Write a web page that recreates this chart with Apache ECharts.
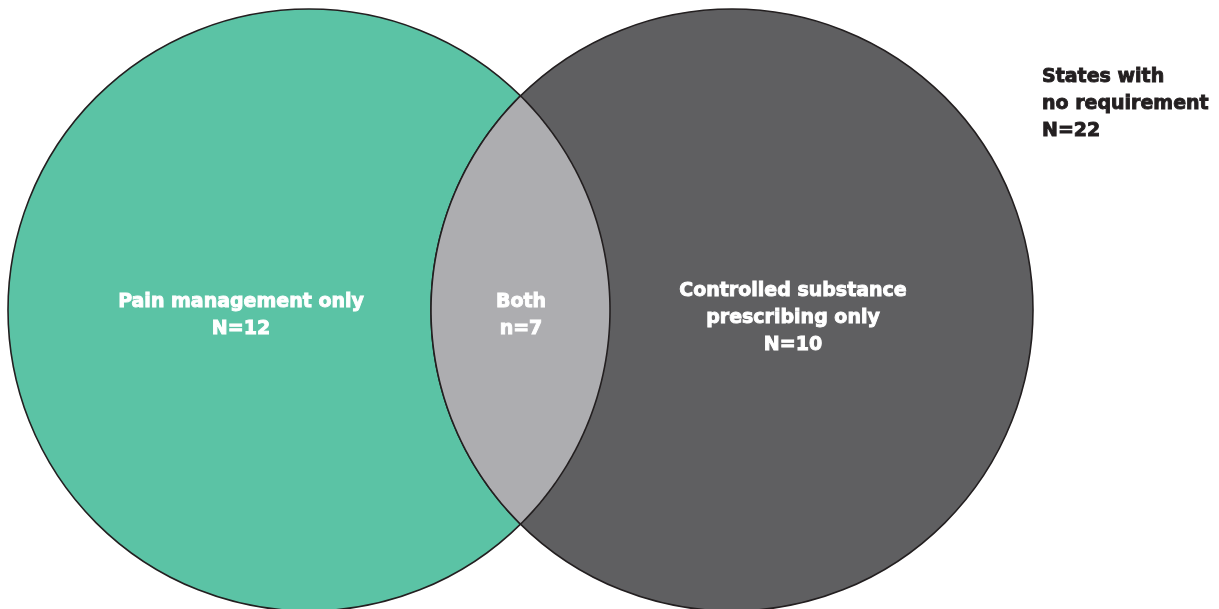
<!DOCTYPE html>
<html>
<head>
<meta charset="utf-8">
<script src="https://cdn.jsdelivr.net/npm/echarts@6/dist/echarts.min.js"></script>
<style>html,body{margin:0;padding:0;background:#fff}#c{width:1219px;height:609px}</style>
</head>
<body>
<div id="c"></div>
<script>
// ---- data ----
const categories = ['Pain management only', 'Both', 'Controlled substance\nprescribing only', 'States with\nno requirement'];
const countPrefixes = ['N', 'n', 'N', 'N'];
const counts = [12, 7, 10, 22];

// ---- layout (axis units = pixels of a full-canvas grid) ----
const circles = [
  { cx: 309, cy: 310, r: 301, color: '#5BC3A5' },
  { cx: 732, cy: 310, r: 301, color: '#5F5F61' }
];
const lensColor = '#ADADB0';
const strokeColor = '#231F20';
const labelPos = [
  { x: 241, y: 316, align: 'center', color: '#ffffff' },
  { x: 521, y: 316, align: 'center', color: '#ffffff' },
  { x: 793, y: 318, align: 'center', color: '#ffffff' },
  { x: 1042, y: 104, align: 'left', color: '#231F20' }
];

const chart = echarts.init(document.getElementById('c'));

function lensPoints(api) {
  const a = circles[0], b = circles[1];
  const d = b.cx - a.cx;
  const xi = (d * d - b.r * b.r + a.r * a.r) / (2 * d);
  const h = Math.sqrt(a.r * a.r - xi * xi);
  const pts = [];
  const angA = Math.atan2(h, xi);
  const N = 200;
  for (let i = 0; i <= N; i++) {
    const t = -angA + (2 * angA) * i / N;
    pts.push(api.coord([a.cx + a.r * Math.cos(t), a.cy + a.r * Math.sin(t)]));
  }
  const angB = Math.atan2(h, d - xi);
  for (let i = 0; i <= N; i++) {
    const t = Math.PI - angB + (2 * angB) * i / N;
    pts.push(api.coord([b.cx + b.r * Math.cos(t), b.cy + b.r * Math.sin(t)]));
  }
  return pts;
}

const shapeData = [0, 1, 2].map(i => ({ value: [i] }));
const labelData = categories.map((c, i) => ({
  value: [labelPos[i].x, labelPos[i].y],
  name: c,
  text: c + '\n' + countPrefixes[i] + '=' + counts[i]
}));

chart.setOption({
  animation: false,
  grid: { left: 0, right: 0, top: 0, bottom: 0 },
  xAxis: { type: 'value', min: 0, max: 1219, show: false },
  yAxis: { type: 'value', min: 0, max: 609, inverse: true, show: false },
  series: [
    {
      type: 'custom',
      coordinateSystem: 'cartesian2d',
      clip: false,
      data: shapeData,
      renderItem: function (params, api) {
        const idx = params.dataIndex;
        if (idx < 2) {
          const c = circles[idx];
          const p = api.coord([c.cx, c.cy]);
          const r = api.size([c.r, 0])[0];
          return {
            type: 'circle',
            shape: { cx: p[0], cy: p[1], r: r },
            style: { fill: c.color, stroke: strokeColor, lineWidth: 1.6 }
          };
        }
        return {
          type: 'polygon',
          shape: { points: lensPoints(api) },
          style: { fill: lensColor, stroke: strokeColor, lineWidth: 1.6, lineJoin: 'round' }
        };
      }
    },
    {
      type: 'custom',
      coordinateSystem: 'cartesian2d',
      clip: false,
      data: labelData,
      renderItem: function (params, api) {
        const idx = params.dataIndex;
        const lp = labelPos[idx];
        const p = api.coord([api.value(0), api.value(1)]);
        return {
          type: 'text',
          x: p[0],
          y: p[1],
          style: {
            text: labelData[idx].text,
            fill: lp.color,
            stroke: lp.color,
            lineWidth: 0.9,
            font: 'bold 19px "DejaVu Sans", sans-serif',
            align: lp.align,
            verticalAlign: 'middle',
            lineHeight: 27
          }
        };
      }
    }
  ]
});
</script>
</body>
</html>
